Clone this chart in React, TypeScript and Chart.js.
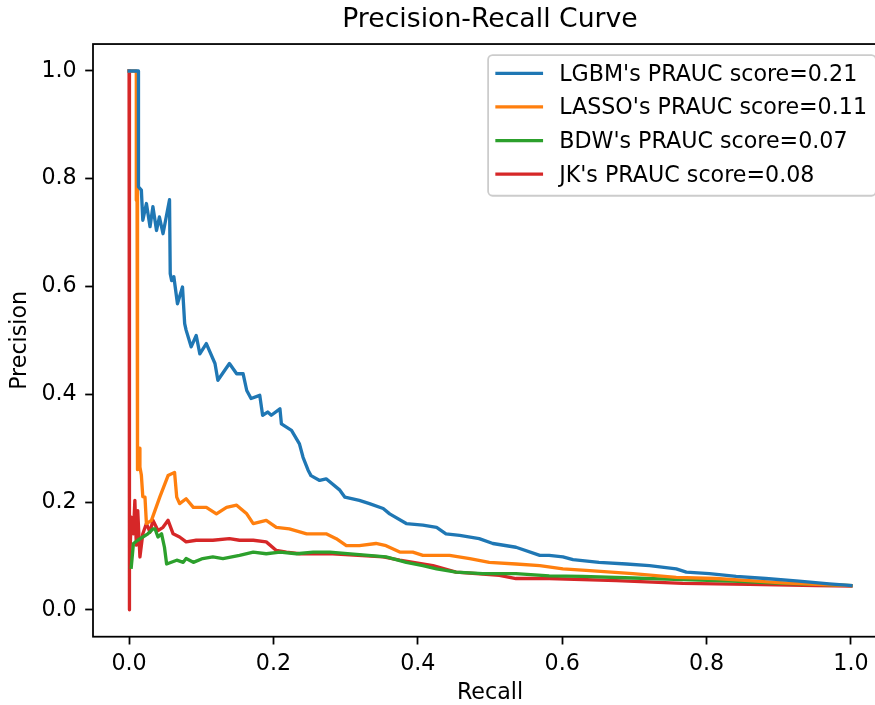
import React, { useEffect, useRef } from 'react';
import { Chart, registerables } from 'chart.js';

Chart.register(...registerables);

const chartTitle = 'Precision-Recall Curve';
const xAxisLabel = 'Recall';
const yAxisLabel = 'Precision';
const xTickValues = [0, 0.2, 0.4, 0.6, 0.8, 1.0];
const yTickValues = [0, 0.2, 0.4, 0.6, 0.8, 1.0];

const seriesLabels = [
  "LGBM's PRAUC score=0.21",
  "LASSO's PRAUC score=0.11",
  "BDW's PRAUC score=0.07",
  "JK's PRAUC score=0.08",
];
const seriesColors = ['#1f77b4', '#ff7f0e', '#2ca02c', '#d62728'];

const lgbmRecall = [0, 0.013, 0.013, 0.017, 0.019, 0.024, 0.029, 0.033, 0.038, 0.042, 0.047, 0.056, 0.057, 0.059, 0.062, 0.067, 0.074, 0.077, 0.079, 0.086, 0.093, 0.098, 0.107, 0.119, 0.123, 0.139, 0.149, 0.158, 0.163, 0.169, 0.181, 0.185, 0.192, 0.197, 0.209, 0.211, 0.225, 0.236, 0.241, 0.248, 0.252, 0.264, 0.273, 0.292, 0.299, 0.319, 0.333, 0.352, 0.361, 0.384, 0.407, 0.426, 0.439, 0.458, 0.485, 0.504, 0.536, 0.569, 0.582, 0.601, 0.615, 0.651, 0.689, 0.721, 0.758, 0.772, 0.804, 0.841, 0.882, 0.928, 0.970, 1.0];
const lgbmPrecision = [1.0, 1.0, 0.785, 0.779, 0.723, 0.754, 0.711, 0.748, 0.704, 0.729, 0.698, 0.761, 0.624, 0.611, 0.618, 0.568, 0.599, 0.531, 0.519, 0.488, 0.509, 0.475, 0.494, 0.457, 0.426, 0.457, 0.438, 0.438, 0.407, 0.392, 0.398, 0.361, 0.367, 0.361, 0.373, 0.345, 0.333, 0.308, 0.283, 0.259, 0.249, 0.240, 0.243, 0.222, 0.209, 0.203, 0.197, 0.188, 0.178, 0.160, 0.157, 0.153, 0.141, 0.138, 0.132, 0.123, 0.116, 0.101, 0.101, 0.098, 0.093, 0.088, 0.085, 0.082, 0.076, 0.070, 0.067, 0.062, 0.058, 0.053, 0.048, 0.045];

const lassoRecall = [0, 0.010, 0.010, 0.011, 0.011, 0.012, 0.012, 0.014, 0.015, 0.017, 0.019, 0.022, 0.024, 0.031, 0.0425, 0.054, 0.063, 0.066, 0.070, 0.079, 0.089, 0.107, 0.121, 0.135, 0.149, 0.163, 0.172, 0.190, 0.204, 0.222, 0.246, 0.273, 0.287, 0.301, 0.319, 0.342, 0.356, 0.375, 0.393, 0.407, 0.444, 0.472, 0.499, 0.536, 0.569, 0.601, 0.633, 0.698, 0.758, 0.813, 0.859, 0.905, 0.952, 1.0];
const lassoPrecision = [1.0, 1.0, 0.76, 0.80, 0.50, 0.44, 0.26, 0.30, 0.265, 0.25, 0.21, 0.209, 0.160, 0.166, 0.209, 0.249, 0.255, 0.209, 0.197, 0.206, 0.190, 0.190, 0.178, 0.190, 0.194, 0.178, 0.160, 0.166, 0.153, 0.150, 0.141, 0.141, 0.132, 0.119, 0.119, 0.123, 0.119, 0.107, 0.107, 0.101, 0.101, 0.095, 0.088, 0.085, 0.082, 0.076, 0.073, 0.067, 0.060, 0.058, 0.054, 0.050, 0.047, 0.045];

const bdwRecall = [0.003, 0.006, 0.012, 0.019, 0.026, 0.033, 0.036, 0.040, 0.045, 0.049, 0.052, 0.066, 0.075, 0.079, 0.089, 0.102, 0.116, 0.130, 0.153, 0.172, 0.190, 0.209, 0.232, 0.255, 0.278, 0.356, 0.384, 0.407, 0.426, 0.453, 0.490, 0.536, 0.582, 0.628, 0.698, 0.767, 0.836, 0.905, 0.952, 1.0];
const bdwPrecision = [0.079, 0.123, 0.129, 0.135, 0.141, 0.150, 0.150, 0.135, 0.141, 0.116, 0.085, 0.092, 0.088, 0.095, 0.088, 0.095, 0.098, 0.095, 0.101, 0.107, 0.104, 0.107, 0.104, 0.107, 0.107, 0.098, 0.088, 0.082, 0.076, 0.070, 0.067, 0.067, 0.063, 0.062, 0.059, 0.056, 0.053, 0.049, 0.047, 0.045];

const jkRecall = [0, 0, 0.001, 0.003, 0.006, 0.008, 0.010, 0.012, 0.015, 0.019, 0.024, 0.029, 0.033, 0.040, 0.047, 0.054, 0.061, 0.070, 0.079, 0.093, 0.116, 0.139, 0.153, 0.172, 0.190, 0.204, 0.218, 0.236, 0.282, 0.352, 0.375, 0.421, 0.453, 0.513, 0.536, 0.582, 0.675, 0.767, 0.859, 0.952, 1.0];
const jkPrecision = [1.0, 0.0, 0.079, 0.172, 0.141, 0.203, 0.120, 0.184, 0.098, 0.141, 0.160, 0.144, 0.166, 0.147, 0.153, 0.166, 0.141, 0.135, 0.126, 0.129, 0.129, 0.132, 0.129, 0.129, 0.126, 0.110, 0.107, 0.104, 0.104, 0.098, 0.092, 0.082, 0.070, 0.064, 0.058, 0.058, 0.054, 0.049, 0.047, 0.045, 0.044];

const seriesRecall = [lgbmRecall, lassoRecall, bdwRecall, jkRecall];
const seriesPrecision = [lgbmPrecision, lassoPrecision, bdwPrecision, jkPrecision];

const FONT = "'DejaVu Sans', sans-serif";
const TICK_SIZE = 22.2;
const TITLE_SIZE = 26.7;
const LINE_W = 3.33;
const SPINE_W = 1.78;

const mplPlugin = {
  id: 'mplDecor',
  afterDatasetsDraw(chart: any) {
    const { ctx, chartArea } = chart;
    ctx.save();
    // frame
    ctx.strokeStyle = '#000';
    ctx.lineWidth = SPINE_W;
    ctx.strokeRect(chartArea.left, chartArea.top, chartArea.right - chartArea.left, chartArea.bottom - chartArea.top);

    // legend
    const fs = TICK_SIZE;
    ctx.font = `${fs}px ${FONT}`;
    const maxW = Math.max(...seriesLabels.map((l) => ctx.measureText(l).width));
    const right = chartArea.right - 0.5 * fs;
    const top = chartArea.top + 0.5 * fs;
    const width = (0.4 + 2 + 0.8) * fs + maxW + 0.4 * fs;
    const left = right - width;
    const height = 140.6;
    const r = 0.2 * fs;
    ctx.beginPath();
    ctx.moveTo(left + r, top);
    ctx.lineTo(right - r, top);
    ctx.arcTo(right, top, right, top + r, r);
    ctx.lineTo(right, top + height - r);
    ctx.arcTo(right, top + height, right - r, top + height, r);
    ctx.lineTo(left + r, top + height);
    ctx.arcTo(left, top + height, left, top + height - r, r);
    ctx.lineTo(left, top + r);
    ctx.arcTo(left, top, left + r, top, r);
    ctx.closePath();
    ctx.fillStyle = 'rgba(255,255,255,0.8)';
    ctx.fill();
    ctx.strokeStyle = '#cccccc';
    ctx.lineWidth = SPINE_W;
    ctx.stroke();

    const rowStart = top + 18.2;
    const rowStep = 33.6;
    seriesLabels.forEach((label, i) => {
      const y = rowStart + i * rowStep;
      ctx.beginPath();
      ctx.lineCap = 'square';
      ctx.strokeStyle = seriesColors[i];
      ctx.lineWidth = LINE_W;
      ctx.moveTo(left + 0.4 * fs, y);
      ctx.lineTo(left + 2.4 * fs, y);
      ctx.stroke();
      ctx.fillStyle = '#000';
      ctx.textAlign = 'left';
      ctx.textBaseline = 'middle';
      ctx.fillText(label, left + 3.2 * fs, y + 1.8);
    });
    ctx.restore();
  },
};

export default function App() {
  const canvasRef = useRef<HTMLCanvasElement | null>(null);

  useEffect(() => {
    const canvas = canvasRef.current;
    if (!canvas) return;
    const datasets = seriesLabels.map((label, i) => ({
      label,
      data: seriesRecall[i].map((x, j) => ({ x, y: seriesPrecision[i][j] })),
      borderColor: seriesColors[i],
      backgroundColor: seriesColors[i],
      borderWidth: LINE_W,
      borderJoinStyle: 'round' as const,
      borderCapStyle: 'square' as const,
      pointRadius: 0,
      pointHoverRadius: 0,
      showLine: true,
      fill: false,
      tension: 0,
    }));

    const chart = new Chart(canvas, {
      type: 'scatter',
      data: { datasets },
      options: {
        responsive: false,
        animation: false,
        devicePixelRatio: 1,
        layout: { padding: { left: 0, right: 93, top: 0, bottom: 0 } },
        plugins: {
          legend: { display: false },
          tooltip: { enabled: false },
          title: {
            display: true,
            fullSize: false,
            text: chartTitle,
            color: '#000',
            font: { family: FONT, size: TITLE_SIZE, weight: 'normal', lineHeight: 1.2 },
            padding: { top: 4.4, bottom: 7.6 },
          },
        },
        scales: {
          x: {
            type: 'linear',
            min: -0.05,
            max: 1.05,
            afterBuildTicks: (s: any) => {
              s.ticks = xTickValues.map((v) => ({ value: v }));
            },
            afterFit: (s: any) => {
              s.height = 68.3;
            },
            ticks: {
              color: '#000',
              font: { family: FONT, size: TICK_SIZE },
              padding: 6,
              maxRotation: 0,
              autoSkip: false,
              callback: (v: any) => Number(v).toFixed(1),
            },
            grid: {
              display: true,
              drawOnChartArea: false,
              drawTicks: true,
              tickLength: 7.8,
              tickWidth: SPINE_W,
              tickColor: '#000',
              color: '#000',
            },
            border: { display: false },
            title: {
              display: true,
              text: xAxisLabel,
              color: '#000',
              font: { family: FONT, size: TICK_SIZE, lineHeight: 1.1 },
              padding: { top: 0, bottom: 0 },
            },
          },
          y: {
            type: 'linear',
            min: -0.05,
            max: 1.05,
            afterBuildTicks: (s: any) => {
              s.ticks = yTickValues.map((v) => ({ value: v }));
            },
            afterFit: (s: any) => {
              s.width = 93;
            },
            ticks: {
              color: '#000',
              font: { family: FONT, size: TICK_SIZE },
              padding: 8.5,
              autoSkip: false,
              callback: (v: any) => Number(v).toFixed(1),
            },
            grid: {
              display: true,
              drawOnChartArea: false,
              drawTicks: true,
              tickLength: 7.8,
              tickWidth: SPINE_W,
              tickColor: '#000',
              color: '#000',
            },
            border: { display: false },
            title: {
              display: true,
              text: yAxisLabel,
              color: '#000',
              font: { family: FONT, size: TICK_SIZE, lineHeight: 1.2 },
              padding: { top: 6.8, bottom: 0 },
            },
          },
        },
      },
      plugins: [mplPlugin],
    });
    return () => chart.destroy();
  }, []);

  return (
    <div
      style={{
        position: 'fixed',
        left: 0,
        top: 0,
        width: 875,
        height: 705,
        overflow: 'hidden',
        background: '#fff',
      }}
    >
      <canvas ref={canvasRef} width={980} height={705} style={{ width: 980, height: 705, display: 'block' }} />
    </div>
  );
}
